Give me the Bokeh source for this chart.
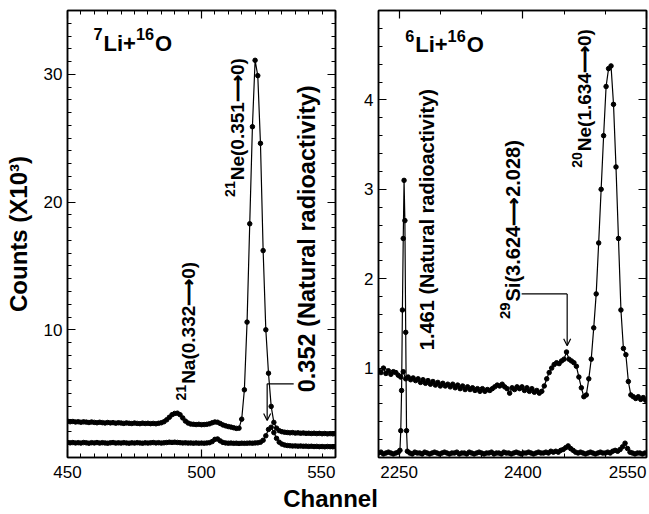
import numpy as np
from math import pi
from bokeh.plotting import figure
from bokeh.layouts import column, row
from bokeh.models import Range1d, LinearAxis, FixedTicker, Label, Arrow, OpenHead, ColumnDataSource
from bokeh.core.properties import value
from bokeh.embed import file_html
from bokeh.resources import INLINE

FONT = "Liberation Sans"

# ---------------- left panel: 7Li+16O ----------------
left_xrange = (450, 550)
left_yrange = (0, 35)
left_xticks = [450, 500, 550]
left_yticks = [10, 20, 30]
left_ch = list(range(450, 551))
left_upper = [
    2.84, 2.8, 2.82, 2.78, 2.8, 2.76, 2.79, 2.77, 2.74, 2.78,
    2.75, 2.72, 2.76, 2.73, 2.7, 2.74, 2.71, 2.73, 2.69, 2.72,
    2.7, 2.67, 2.71, 2.68, 2.66, 2.7, 2.67, 2.65, 2.69, 2.66,
    2.68, 2.65, 2.67, 2.64, 2.68, 2.72, 2.8, 2.95, 3.15, 3.35,
    3.45, 3.47, 3.35, 3.1, 2.85, 2.7, 2.62, 2.6, 2.58, 2.6,
    2.57, 2.58, 2.6, 2.64, 2.72, 2.78, 2.76, 2.66, 2.55, 2.48,
    2.42, 2.38, 2.33, 2.28, 2.3, 3.0, 5.3, 10.6, 18.3, 25.9,
    31.1, 29.9, 24.6, 16.2, 10.0, 6.6, 4.0, 2.75, 2.3, 2.1,
    2.02, 1.98, 1.96, 1.93, 1.95, 1.91, 1.93, 1.9, 1.92, 1.89,
    1.9, 1.88, 1.9, 1.87, 1.89, 1.86, 1.88, 1.85, 1.87, 1.85,
    1.86]
left_lower = [
    1.18, 1.15, 1.17, 1.14, 1.16, 1.13, 1.17, 1.15, 1.12, 1.16,
    1.14, 1.17, 1.13, 1.16, 1.14, 1.12, 1.15, 1.17, 1.13, 1.15,
    1.13, 1.16, 1.14, 1.12, 1.15, 1.13, 1.16, 1.14, 1.12, 1.15,
    1.13, 1.15, 1.17, 1.14, 1.16, 1.13, 1.15, 1.17, 1.2, 1.18,
    1.2, 1.18, 1.16, 1.14, 1.15, 1.13, 1.14, 1.12, 1.14, 1.12,
    1.13, 1.12, 1.14, 1.16, 1.25, 1.42, 1.45, 1.3, 1.18, 1.14,
    1.12, 1.13, 1.11, 1.12, 1.1, 1.12, 1.11, 1.12, 1.13, 1.12,
    1.14, 1.15, 1.2, 1.35, 1.7, 2.2, 2.37, 1.95, 1.5, 1.2,
    1.05, 0.98, 0.94, 0.92, 0.9, 0.91, 0.89, 0.9, 0.88, 0.89,
    0.87, 0.88, 0.86, 0.87, 0.85, 0.86, 0.84, 0.86, 0.85, 0.84,
    0.85]

# ---------------- right panel: 6Li+16O ----------------
right_xrange = (2225, 2550)
right_yrange = (0, 5)
right_xticks = [2250, 2400, 2550]
right_yticks = [1, 2, 3, 4]
right_upper_ch = list(range(2225, 2550, 3))
right_upper = [
    0.97, 0.95, 1.0, 0.94, 0.97, 0.93, 0.96, 0.95, 0.92,
    0.9, 0.96, 0.88, 0.9, 0.87, 0.89, 0.86, 0.88, 0.84, 0.87,
    0.83, 0.86, 0.82, 0.85, 0.81, 0.84, 0.8, 0.83, 0.8, 0.82,
    0.79, 0.82, 0.78, 0.81, 0.77, 0.8, 0.76, 0.79, 0.76, 0.78,
    0.75, 0.77, 0.74, 0.77, 0.74, 0.76, 0.75, 0.77, 0.79, 0.81,
    0.8, 0.82, 0.79, 0.77, 0.72, 0.78, 0.76, 0.79, 0.77, 0.79,
    0.75, 0.78, 0.74, 0.77, 0.73, 0.75, 0.72, 0.74, 0.8, 0.88,
    0.95, 1.0, 1.04, 1.06, 1.05, 1.08, 1.1, 1.18, 1.1, 1.08,
    1.06, 1.02, 0.9, 0.78, 0.68, 0.7, 0.88, 1.1, 1.45, 1.83,
    2.4, 3.0, 3.6, 4.15, 4.35, 4.38, 3.95, 3.25, 2.45, 1.65,
    1.22, 1.15, 0.85, 0.7, 0.68, 0.66, 0.68, 0.65, 0.67, 0.64]
right_lower_ch = (list(range(2225, 2250, 3))
                  + [2251, 2252, 2253, 2254, 2255, 2256, 2257, 2258, 2259, 2260]
                  + list(range(2263, 2550, 3)))
right_lower = (
    [0.05, 0.06, 0.04, 0.05, 0.06, 0.05, 0.04, 0.05, 0.06]
    + [0.08, 0.3, 0.75, 1.65, 2.45, 3.1, 2.65, 1.4, 0.3, 0.07]
    + [0.05, 0.04, 0.06, 0.05, 0.05, 0.04, 0.06, 0.05, 0.04, 0.05, 0.06, 0.05,
       0.04, 0.05, 0.06, 0.05, 0.04, 0.05, 0.05, 0.06, 0.04, 0.05, 0.05, 0.04,
       0.06, 0.05, 0.04, 0.05, 0.06, 0.05, 0.04, 0.05, 0.05, 0.06, 0.04, 0.05,
       0.05, 0.04, 0.06, 0.05, 0.05, 0.04, 0.05, 0.06, 0.05, 0.04, 0.05, 0.05,
       0.06, 0.05, 0.04, 0.05, 0.06, 0.05, 0.05, 0.06, 0.05, 0.07, 0.06, 0.07,
       0.06, 0.08, 0.09, 0.11, 0.13, 0.1, 0.08, 0.06, 0.05, 0.06, 0.05, 0.04,
       0.05, 0.06, 0.05, 0.04, 0.05, 0.06, 0.05, 0.05, 0.06, 0.05, 0.07, 0.08,
       0.07, 0.09, 0.12, 0.16, 0.1, 0.06, 0.05, 0.04, 0.05, 0.05, 0.04, 0.05])

# annotations: anchor x, anchor y, [(text piece, is superscript)], font px
left_title = (459.7, 31.9, [("7", True), ("Li+", False), ("16", True), ("O", False)], 22)
right_title = (2257.3, 4.54, [("6", True), ("Li+", False), ("16", True), ("O", False)], 22)
left_vlabels = [
    (495.0, 4.46, [("21", True), ("Na(0.332\u27f60)", False)], 19),
    (513.6, 20.4, [("21", True), ("Ne(0.351\u27f60)", False)], 19),
    (539.2, 5.11, [("0.352 (Natural radioactivity)", False)], 23.5),
]
right_vlabels = [
    (2283.6, 1.2, [("1.461 (Natural radioactivity)", False)], 20),
    (2388.5, 1.55, [("29", True), ("Si(3.624\u27f62.028)", False)], 20),
    (2475.2, 3.24, [("20", True), ("Ne(1.634\u27f60)", False)], 19),
]
left_arrow = (534.4, 524.5, 5.77, 2.9)    # x_from, x_corner, y_line, y_tip
right_arrow = (2398.6, 2453.8, 1.83, 1.25)

# ---------------- geometry ----------------
W_LEFT, W_RIGHT = 357, 292
B_LEFT_L, B_LEFT_R = 67, 22
B_RIGHT_L, B_RIGHT_R = 21, 3
FRAME_W = 268
PANEL_H, TOP_B, BOT_B = 460, 10, 3
STRIP_H = 514 - PANEL_H
SUP_RATIO = 0.74
CHAR_W = {**{d: 0.556 for d in "0123456789"}, ".": 0.278, "L": 0.611, "i": 0.278, "+": 0.584}


def text_w(s, size):
    return sum(CHAR_W.get(c, 0.6) for c in s) * size


def make_panel(xr, yr, xt, xminor, yt, yminor, width, bl, br, ylabel=None):
    p = figure(width=width, height=PANEL_H, x_range=Range1d(*xr), y_range=Range1d(*yr),
               output_backend="svg", toolbar_location=None,
               x_axis_type=None, y_axis_type=None,
               min_border_left=bl, min_border_right=br, min_border_top=TOP_B,
               min_border_bottom=BOT_B)
    p.xgrid.visible = False
    p.ygrid.visible = False
    p.outline_line_color = "black"
    p.outline_line_width = 1.5
    for loc, ticks, minors in [("below", xt, xminor), ("above", xt, xminor),
                               ("left", yt, yminor), ("right", yt, yminor)]:
        ax = LinearAxis(ticker=FixedTicker(ticks=ticks, minor_ticks=minors))
        ax.major_tick_in = 8
        ax.major_tick_out = 0
        ax.minor_tick_in = 4
        ax.minor_tick_out = 0
        ax.axis_line_width = 1.5
        ax.axis_line_color = "black"
        ax.major_tick_line_width = 1.2
        ax.minor_tick_line_width = 1
        ax.major_tick_line_color = "black"
        ax.minor_tick_line_color = "black"
        ax.major_label_text_font = FONT
        ax.major_label_text_font_size = "17px"
        ax.major_label_text_color = "black"
        ax.major_label_standoff = 5
        if loc != "left":
            ax.major_label_text_color = None
            ax.major_label_standoff = 0
        if loc == "left" and ylabel:
            ax.axis_label = ylabel
            ax.axis_label_text_font = FONT
            ax.axis_label_text_font_size = "24px"
            ax.axis_label_text_font_style = "bold"
            ax.axis_label_text_color = "black"
            ax.axis_label_standoff = 9
        p.add_layout(ax, loc)
    return p


def add_curve(p, x, y):
    src = ColumnDataSource(dict(x=x, y=y))
    p.line("x", "y", source=src, line_color="black", line_width=1.2)
    p.scatter("x", "y", source=src, size=4.5, color="black")


def add_rich(p, x, y, parts, size, vertical):
    """Text with superscript pieces; vertical texts read bottom-to-top."""
    sup_size = round(size * SUP_RATIO, 1)
    adv = 0.0
    base_shift = 0.0 if vertical else 0.32 * size
    for txt, sup in parts:
        fs = sup_size if sup else size
        lift = 0.4 * size if sup else 0.0
        if vertical:
            xo, yo = -lift, adv
        else:
            xo, yo = adv, base_shift + lift
        p.add_layout(Label(x=x, y=y, x_offset=xo, y_offset=yo, text=txt,
                           angle=(pi / 2 if vertical else 0), text_align="left",
                           text_baseline="alphabetic", text_font=FONT,
                           text_font_size=f"{fs}px", text_font_style="bold",
                           text_color="black"))
        adv += text_w(txt, fs) + (1 if sup else 0)


def add_bent_arrow(p, a):
    x0, x1, yl, ytip = a
    p.add_layout(Arrow(x_start=x0, y_start=yl, x_end=x1, y_end=yl, end=None,
                       line_color="black", line_width=1.2))
    p.add_layout(Arrow(x_start=x1, y_start=yl, x_end=x1, y_end=ytip,
                       end=OpenHead(size=7, line_width=1.2, line_color="black"),
                       line_color="black", line_width=1.2))


p1 = make_panel(left_xrange, left_yrange, left_xticks, list(range(450, 551, 5)),
                left_yticks, list(range(0, 36)), W_LEFT, B_LEFT_L, B_LEFT_R,
                ylabel="Counts (X10\u00b3)")
add_curve(p1, left_ch, left_upper)
add_curve(p1, left_ch, left_lower)
add_rich(p1, left_title[0], left_title[1], left_title[2], left_title[3], False)
for x, y, parts, fs in left_vlabels:
    add_rich(p1, x, y, parts, fs, True)
add_bent_arrow(p1, left_arrow)

p2 = make_panel(right_xrange, right_yrange, right_xticks, list(range(2250, 2551, 50)),
                right_yticks, [round(0.2 * i, 1) for i in range(0, 26)], W_RIGHT,
                B_RIGHT_L, B_RIGHT_R)
add_curve(p2, right_upper_ch, right_upper)
add_curve(p2, right_lower_ch, right_lower)
add_rich(p2, right_title[0], right_title[1], right_title[2], right_title[3], False)
for x, y, parts, fs in right_vlabels:
    add_rich(p2, x, y, parts, fs, True)
add_bent_arrow(p2, right_arrow)


# ---------------- bottom strip: x tick labels of both panels + "Channel" ----------------
def strip_range(xr, frame_left):
    scale = FRAME_W / (xr[1] - xr[0])
    start = xr[0] - frame_left / scale
    return Range1d(start, start + 649 / scale)


p3 = figure(width=649, height=STRIP_H,
            x_range=strip_range(left_xrange, B_LEFT_L),
            y_range=Range1d(0, STRIP_H),
            output_backend="svg", toolbar_location=None, x_axis_type=None, y_axis_type=None,
            min_border=0)
p3.extra_x_ranges = {"r": strip_range(right_xrange, W_LEFT + B_RIGHT_L)}
p3.xgrid.visible = False
p3.ygrid.visible = False
p3.outline_line_color = None

for ticks, xr, rname in [(left_xticks, left_xrange, "default"), (right_xticks, right_xrange, "r")]:
    src = ColumnDataSource(dict(
        x=ticks, y=[STRIP_H - 5] * len(ticks), text=[str(t) for t in ticks],
        align=["right" if t == xr[1] else "center" for t in ticks]))
    p3.text("x", "y", text="text", source=src, x_range_name=rname,
            text_align="align", text_baseline="top", text_font=value(FONT),
            text_font_size=value("17px"), text_color="black")

p3.add_layout(Label(x=330, y=16, x_units="screen", text="Channel", text_align="center",
                    text_baseline="middle", text_font=FONT, text_font_size="24px",
                    text_font_style="bold", text_color="black"))

layout = column(row(p1, p2), p3)
open("out.html", "w").write(file_html(layout, INLINE))
